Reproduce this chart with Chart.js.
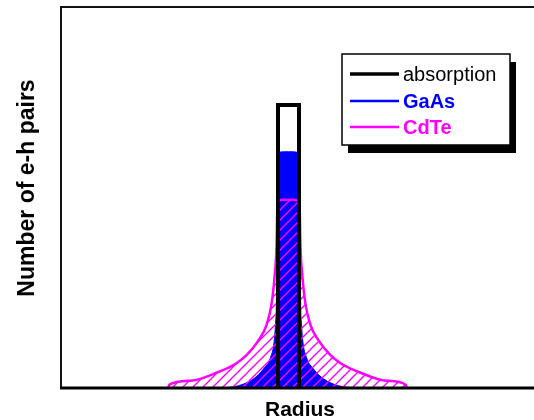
<!DOCTYPE html>
<html>
<head>
<meta charset="utf-8">
<script src="https://cdn.jsdelivr.net/npm/chart.js@4/dist/chart.umd.min.js"></script>
<style>
html,body{margin:0;padding:0;background:#fff;}
#wrap{width:534px;height:420px;position:relative;}
</style>
</head>
<body>
<div id="wrap"><canvas id="c" width="534" height="420"></canvas></div>
<script>
// ---- data (radius in arbitrary units, centre at 0; value = relative number of e-h pairs) ----
const seriesNames = ["absorption", "GaAs", "CdTe"];
const xTitle = "Radius";
const yTitle = "Number of e-h pairs";

const absX = [-1.05, -1.05, 1.05, 1.05];
const absY = [0, 74.3, 74.3, 0];

const gaasX = [-6.6, -5.0, -3.5, -2.5, -1.8, -1.4, -1.3, -1.2, -1.12, -1.0, -0.5, 0, 0.5, 1.0, 1.12, 1.2, 1.3, 1.4, 1.8, 2.5, 3.5, 5.0, 6.6];
const gaasY = [0, 0.6, 2.4, 5.0, 8.0, 13.0, 17.0, 25.0, 60.5, 61.8, 62, 62, 62, 61.8, 60.5, 25.0, 17.0, 13.0, 8.0, 5.0, 2.4, 0.6, 0];

const cdteX = [-12.0, -11.95, -9.8, -7.2, -5.2, -4.2, -3.0, -2.2, -1.7, -1.4, -1.2, -1.1, -1.0, -0.5, 0, 0.5, 1.0, 1.1, 1.2, 1.4, 1.7, 2.2, 3.0, 4.2, 5.2, 7.2, 9.8, 11.75, 11.8];
const cdteY = [0, 0.8, 1.9, 4.0, 6.5, 8.6, 12.5, 16.5, 22.0, 29.0, 37.0, 48.5, 49.2, 49.4, 49.4, 49.4, 49.2, 48.5, 37.0, 29.0, 22.0, 16.5, 12.5, 8.6, 6.5, 4.0, 1.9, 0.8, 0];

const xMin = -22.75, xMax = 24.55, yMin = 0, yMax = 100;

const colors = ["#000000", "#0000ff", "#ff00ff"];

function pts(xs, ys){ return xs.map((x,i)=>({x:x, y:ys[i]})); }

// hatch pattern for CdTe
function hatch(color){
  const p = document.createElement('canvas');
  p.width = 10; p.height = 10;
  const g = p.getContext('2d');
  g.strokeStyle = color; g.lineWidth = 1.4;
  g.beginPath();
  g.moveTo(0,10); g.lineTo(10,0);
  g.moveTo(-5,5); g.lineTo(5,-5);
  g.moveTo(5,15); g.lineTo(15,5);
  g.stroke();
  return g.createPattern(p, 'repeat');
}

const framePlugin = {
  id: 'frame',
  afterDatasetsDraw(chart){
    const ctx = chart.ctx;
    ctx.save();
    ctx.strokeStyle = '#111';
    ctx.lineWidth = 2;
    ctx.beginPath();
    ctx.moveTo(61, 388); ctx.lineTo(61, 7); ctx.lineTo(534, 7);
    ctx.stroke();
    ctx.strokeStyle = '#000';
    ctx.lineWidth = 3;
    ctx.beginPath();
    ctx.moveTo(60, 388); ctx.lineTo(534, 388);
    ctx.stroke();
    ctx.restore();
  },
  afterDraw(chart){
    const ctx = chart.ctx;
    ctx.save();
    // axis titles
    ctx.fillStyle = '#000';
    ctx.font = 'bold 21px "Liberation Sans", Arial, sans-serif';
    ctx.textAlign = 'center';
    ctx.textBaseline = 'alphabetic';
    ctx.fillText(xTitle, 300, 416);
    ctx.translate(34, 188);
    ctx.rotate(-Math.PI/2);
    ctx.font = 'bold 23px "Liberation Sans", Arial, sans-serif';
    ctx.fillText(yTitle, 0, 0);
    ctx.restore();

    // legend with shadow
    ctx.save();
    const bx = 342, by = 54, bw = 168, bh = 91;
    ctx.fillStyle = '#000';
    ctx.fillRect(bx + 6, by + 8, bw, bh);
    ctx.fillStyle = '#fff';
    ctx.fillRect(bx, by, bw, bh);
    ctx.strokeStyle = '#000';
    ctx.lineWidth = 1.5;
    ctx.strokeRect(bx, by, bw, bh);
    const rows = [74, 101, 127];
    const widths = [3.5, 2.5, 2.5];
    const fonts = ['20px "Liberation Sans", Arial, sans-serif', 'bold 20px "Liberation Sans", Arial, sans-serif', 'bold 20px "Liberation Sans", Arial, sans-serif'];
    seriesNames.forEach((n, i) => {
      ctx.strokeStyle = colors[i];
      ctx.lineWidth = widths[i];
      ctx.beginPath();
      ctx.moveTo(350, rows[i]); ctx.lineTo(399, rows[i]);
      ctx.stroke();
      ctx.fillStyle = colors[i];
      ctx.font = fonts[i];
      ctx.textAlign = 'left';
      ctx.textBaseline = 'middle';
      ctx.fillText(n, 403, rows[i] + 1);
    });
    ctx.restore();
  }
};

new Chart(document.getElementById('c'), {
  type: 'line',
  data: {
    datasets: [
      {
        label: seriesNames[0],
        data: pts(absX, absY),
        borderColor: colors[0],
        borderWidth: 4,
        borderJoinStyle: 'miter',
        fill: false,
        pointRadius: 0,
        tension: 0,
        order: 0
      },
      {
        label: seriesNames[1],
        data: pts(gaasX, gaasY),
        borderColor: colors[1],
        backgroundColor: colors[1],
        borderWidth: 1,
        fill: 'origin',
        pointRadius: 0,
        cubicInterpolationMode: 'monotone',
        order: 2
      },
      {
        label: seriesNames[2],
        data: pts(cdteX, cdteY),
        borderColor: colors[2],
        backgroundColor: hatch(colors[2]),
        borderWidth: 2.5,
        fill: 'origin',
        pointRadius: 0,
        cubicInterpolationMode: 'monotone',
        order: 1
      }
    ]
  },
  options: {
    responsive: false,
    animation: false,
    layout: { padding: { left: 61, top: 7, right: 0, bottom: 32 } },
    scales: {
      x: { type: 'linear', min: xMin, max: xMax, display: false },
      y: { type: 'linear', min: yMin, max: yMax, display: false }
    },
    plugins: {
      legend: { display: false },
      tooltip: { enabled: false }
    }
  },
  plugins: [framePlugin]
});
</script>
</body>
</html>
